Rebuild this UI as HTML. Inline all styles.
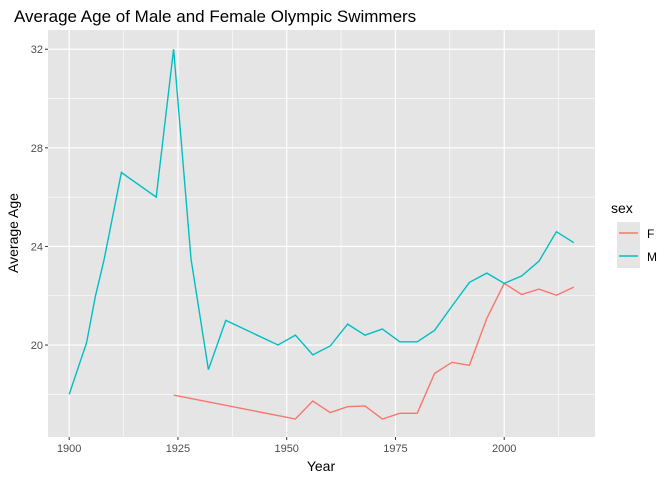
<!DOCTYPE html>
<html><head><meta charset="utf-8"><style>
body{margin:0;background:#fff;}
svg{display:block;font-family:"Liberation Sans",sans-serif;}
</style></head><body>
<svg id="chart" width="672" height="480">
<text x="14" y="22" font-size="17" fill="#000">Average Age of Male and Female Olympic Swimmers</text>
<rect x="48" y="30" width="547" height="407" fill="#e5e5e5"/>
<g id="grid"></g><g id="series"></g><g id="axes"></g>
<text x="321" y="471" font-size="14" text-anchor="middle">Year</text>
<text transform="translate(18,233) rotate(-90)" font-size="14" text-anchor="middle">Average Age</text>
<g>
<text x="611" y="213" font-size="14">sex</text>
<rect x="617" y="222" width="23" height="46" fill="#e5e5e5"/>
<line x1="619" x2="638" y1="233" y2="233" stroke="#F8766D" stroke-width="1.4"/>
<line x1="619" x2="638" y1="256" y2="256" stroke="#00BFC4" stroke-width="1.4"/>
<text x="647" y="238" font-size="12">F</text>
<text x="647" y="261" font-size="12">M</text>
</g>
</svg>
<script>
const maleYears=[1900,1904,1906,1908,1912,1920,1924,1928,1932,1936,1948,1952,1956,1960,1964,1968,1972,1976,1980,1984,1988,1992,1996,2000,2004,2008,2012,2016];
const maleAges=[18.0,20.1,21.96,23.45,27.0,26.0,32.0,23.5,19.0,21.0,20.0,20.4,19.6,19.96,20.85,20.4,20.65,20.13,20.13,20.6,21.58,22.54,22.92,22.5,22.8,23.4,24.6,24.15];
const femaleYears=[1924,1952,1956,1960,1964,1968,1972,1976,1980,1984,1988,1992,1996,2000,2004,2008,2012,2016];
const femaleAges=[17.97,17.0,17.73,17.26,17.5,17.53,17.0,17.23,17.23,18.85,19.3,19.18,21.08,22.5,22.05,22.27,22.02,22.35];
const xTicks=[1900,1925,1950,1975,2000];
const yTicks=[20,24,28,32];
const xMinor=[1912.5,1937.5,1962.5,1987.5,2012.5];
const yMinor=[18,22,26,30];
const NS="http://www.w3.org/2000/svg";
const X0=48,X1=595,Y0=437,Y1=30,XMIN=1895.13,XMAX=2020.87,YMIN=16.27,YMAX=32.78;
const xs=v=>X0+(v-XMIN)/(XMAX-XMIN)*(X1-X0);
const ys=v=>Y0-(v-YMIN)/(YMAX-YMIN)*(Y0-Y1);
function mk(tag,attrs,parent){const e=document.createElementNS(NS,tag);for(const k in attrs)e.setAttribute(k,attrs[k]);parent.appendChild(e);return e;}
const grid=document.getElementById('grid'),axes=document.getElementById('axes'),series=document.getElementById('series');
xMinor.forEach(v=>{const l=mk('line',{x1:xs(v),x2:xs(v),y1:Y1,y2:Y0,stroke:'#fff','stroke-width':0.6},grid);

});
yMinor.forEach(v=>{const l=mk('line',{x1:X0,x2:X1,y1:ys(v),y2:ys(v),stroke:'#fff','stroke-width':0.6},grid);

});
xTicks.forEach(v=>{const l=mk('line',{x1:xs(v),x2:xs(v),y1:Y1,y2:Y0,stroke:'#fff','stroke-width':1.2},grid);


const t=mk('line',{x1:xs(v),x2:xs(v),y1:Y0,y2:Y0+3,stroke:'#333','stroke-width':1},axes);


const tx=mk('text',{x:xs(v),y:Y0+15,'font-size':11,fill:'#4d4d4d','text-anchor':'middle'},axes);tx.textContent=v;

});
yTicks.forEach(v=>{const l=mk('line',{x1:X0,x2:X1,y1:ys(v),y2:ys(v),stroke:'#fff','stroke-width':1.2},grid);


const t=mk('line',{x1:X0-3,x2:X0,y1:ys(v),y2:ys(v),stroke:'#333','stroke-width':1},axes);


const tx=mk('text',{x:X0-5,y:ys(v)+4,'font-size':11,fill:'#4d4d4d','text-anchor':'end'},axes);tx.textContent=v;

});
function line(xsArr,ysArr,color,name){const p=mk('polyline',{points:xsArr.map((x,i)=>xs(x).toFixed(1)+','+ys(ysArr[i]).toFixed(1)).join(' '),fill:'none',stroke:color,'stroke-width':1.4},series);

}
line(femaleYears,femaleAges,'#F8766D','female-line');
line(maleYears,maleAges,'#00BFC4','male-line');
</script>
</body></html>
